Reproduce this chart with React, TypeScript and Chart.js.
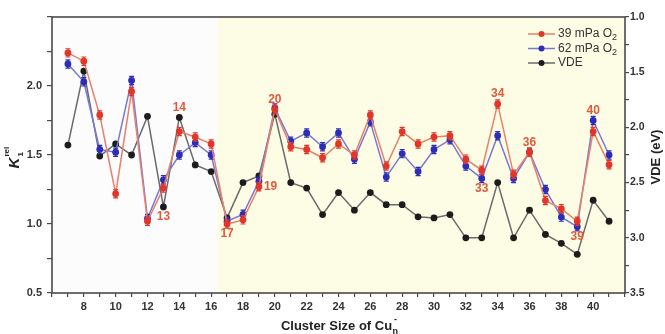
import React, { useEffect, useRef } from 'react';
import { Chart, registerables } from 'chart.js';

Chart.register(...registerables);

// ---------- data ----------
const clusterSizes = [7, 8, 9, 10, 11, 12, 13, 14, 15, 16, 17, 18, 19, 20, 21, 22, 23, 24, 25, 26, 27, 28, 29, 30, 31, 32, 33, 34, 35, 36, 37, 38, 39, 40, 41];
const k39 = [2.24, 2.18, 1.79, 1.22, 1.96, 1.02, 1.26, 1.67, 1.63, 1.58, 1.0, 1.03, 1.27, 1.83, 1.56, 1.54, 1.48, 1.58, 1.5, 1.79, 1.42, 1.67, 1.58, 1.63, 1.64, 1.47, 1.39, 1.87, 1.36, 1.52, 1.17, 1.11, 1.02, 1.67, 1.43];
const k62 = [2.16, 2.03, 1.54, 1.52, 2.04, 1.04, 1.32, 1.5, 1.59, 1.5, 1.02, 1.07, 1.31, 1.84, 1.6, 1.66, 1.56, 1.66, 1.47, 1.74, 1.34, 1.51, 1.38, 1.54, 1.61, 1.42, 1.33, 1.64, 1.33, 1.52, 1.25, 1.05, 0.98, 1.75, 1.5];
const vde = [2.16, 1.49, 2.26, 2.15, 2.25, 1.9, 2.72, 1.91, 2.34, 2.4, 2.82, 2.5, 2.44, 1.88, 2.5, 2.55, 2.79, 2.59, 2.75, 2.59, 2.7, 2.7, 2.81, 2.82, 2.79, 3.0, 3.0, 2.5, 3.0, 2.75, 2.97, 3.05, 3.15, 2.66, 2.85];
const kErr = 0.03;

const seriesLabels = ['39 mPa O', '62 mPa O', 'VDE'];
const seriesSubs = ['2', '2', ''];

const xTickLabels = [8, 10, 12, 14, 16, 18, 20, 22, 24, 26, 28, 30, 32, 34, 36, 38, 40];
const leftTickLabels = [0.5, 1.0, 1.5, 2.0];
const rightTickLabels = [1.0, 1.5, 2.0, 2.5, 3.0, 3.5];
const highlightFrom = 16.4;

const annoSizes = [13, 14, 17, 19, 20, 33, 34, 36, 39, 40];
const annoAnchor = [2, 2, 0, 0, 0, 1, 0, 0, 1, 1];
const annoPlace = ['below', 'above', 'below', 'right', 'above', 'below', 'above', 'above', 'below', 'above'];

// ---------- styles ----------
const FONT = '"Liberation Sans", Arial, Helvetica, sans-serif';
const pointColors = ['#e2362a', '#2d2db8', '#1c1c1c'];
const lineColors = ['#e8806a', '#7a78d6', '#6a6a6a'];
const AXIS = '#4a4a4a';
const TXT = '#333333';
const ANNO = '#e05a3c';

const App: React.FC = () => {
  const ref = useRef<HTMLCanvasElement | null>(null);

  useEffect(() => {
    document.body.style.margin = '0';
    const canvas = ref.current;
    if (!canvas) return;

    const mk = (arr: number[]) => clusterSizes.map((n, i) => ({ x: n, y: arr[i] }));

    const bgPlugin = {
      id: 'bg',
      beforeDraw(chart: any) {
        const { ctx, chartArea: a, scales } = chart;
        ctx.save();
        ctx.fillStyle = '#ffffff';
        ctx.fillRect(0, 0, chart.width, chart.height);
        ctx.fillStyle = '#fcfcfc';
        ctx.fillRect(a.left, a.top, a.right - a.left, a.bottom - a.top);
        const xs = scales.x.getPixelForValue(highlightFrom);
        ctx.fillStyle = '#fdfce4';
        ctx.fillRect(xs, a.top, a.right - xs, a.bottom - a.top);
        ctx.restore();
      },
    };

    const errPlugin = {
      id: 'err',
      afterDatasetDraw(chart: any, args: any) {
        const i = args.index;
        if (i > 1) return;
        const { ctx, scales } = chart;
        const arr = i === 0 ? k39 : k62;
        ctx.save();
        ctx.strokeStyle = pointColors[i];
        ctx.lineWidth = 1.2;
        clusterSizes.forEach((n, j) => {
          const x = scales.x.getPixelForValue(n);
          const y1 = scales.y.getPixelForValue(arr[j] + kErr);
          const y2 = scales.y.getPixelForValue(arr[j] - kErr);
          ctx.beginPath();
          ctx.moveTo(x, y1); ctx.lineTo(x, y2);
          ctx.moveTo(x - 2.5, y1); ctx.lineTo(x + 2.5, y1);
          ctx.moveTo(x - 2.5, y2); ctx.lineTo(x + 2.5, y2);
          ctx.stroke();
        });
        ctx.restore();
      },
    };

    const decoPlugin = {
      id: 'deco',
      afterDraw(chart: any) {
        const { ctx, chartArea: a, scales } = chart;
        ctx.save();
        // frame
        ctx.strokeStyle = AXIS;
        ctx.lineWidth = 1.6;
        ctx.strokeRect(a.left, a.top, a.right - a.left, a.bottom - a.top);

        // annotations
        ctx.fillStyle = ANNO;
        ctx.font = `bold 12px ${FONT}`;
        const all = [k39, k62, vde];
        annoSizes.forEach((n, k) => {
          const j = clusterSizes.indexOf(n);
          const s = annoAnchor[k];
          const x = scales.x.getPixelForValue(n);
          const y = (s === 2 ? scales.y1 : scales.y).getPixelForValue(all[s][j]);
          const p = annoPlace[k];
          if (p === 'above') {
            ctx.textAlign = 'center'; ctx.textBaseline = 'bottom';
            ctx.fillText(String(n), x, y - 4);
          } else if (p === 'below') {
            ctx.textAlign = 'center'; ctx.textBaseline = 'top';
            ctx.fillText(String(n), x, y + 4);
          } else {
            ctx.textAlign = 'left'; ctx.textBaseline = 'middle';
            ctx.fillText(String(n), x + 5, y);
          }
        });

        // legend
        const lx = a.right - 97;
        const ly = a.top + 17;
        seriesLabels.forEach((lab, i) => {
          const y = ly + i * 14.5;
          ctx.strokeStyle = lineColors[i];
          ctx.lineWidth = 1.5;
          ctx.beginPath(); ctx.moveTo(lx, y); ctx.lineTo(lx + 27, y); ctx.stroke();
          ctx.fillStyle = pointColors[i];
          ctx.beginPath(); ctx.arc(lx + 13.5, y, 3, 0, Math.PI * 2); ctx.fill();
          ctx.fillStyle = TXT;
          ctx.font = `12px ${FONT}`;
          ctx.textAlign = 'left'; ctx.textBaseline = 'middle';
          ctx.fillText(lab, lx + 30, y);
          if (seriesSubs[i]) {
            const w = ctx.measureText(lab).width;
            ctx.font = `9px ${FONT}`;
            ctx.fillText(seriesSubs[i], lx + 30 + w, y + 4);
          }
        });

        // x title
        ctx.fillStyle = '#222';
        ctx.font = `bold 13px ${FONT}`;
        const main = 'Cluster Size of Cu';
        const wMain = ctx.measureText(main).width;
        const cx = (a.left + a.right) / 2 + 2;
        const bx = cx - (wMain + 8) / 2;
        ctx.textAlign = 'left'; ctx.textBaseline = 'alphabetic';
        ctx.fillText(main, bx, 330);
        ctx.font = `bold 9px ${FONT}`;
        ctx.fillText('n', bx + wMain + 0.5, 334);
        ctx.fillText('-', bx + wMain + 2, 322);

        // right title
        ctx.save();
        ctx.translate(660, (a.top + a.bottom) / 2 + 2);
        ctx.rotate(-Math.PI / 2);
        ctx.font = `bold 13px ${FONT}`;
        ctx.textAlign = 'center'; ctx.textBaseline = 'alphabetic';
        ctx.fillText('VDE (eV)', 0, 0);
        ctx.restore();

        // left title K_1^rel
        ctx.save();
        ctx.translate(19, (a.top + a.bottom) / 2 + 4);
        ctx.rotate(-Math.PI / 2);
        ctx.font = `bold italic 15px ${FONT}`;
        ctx.textAlign = 'left'; ctx.textBaseline = 'alphabetic';
        const wk = ctx.measureText('K').width;
        ctx.fillText('K', -wk / 2 - 4, 0);
        ctx.font = `bold 8px ${FONT}`;
        ctx.fillText('1', wk / 2 - 3, 4);
        ctx.fillText('rel', wk / 2 - 3, -10);
        ctx.restore();

        ctx.restore();
      },
    };

    const tickFont = { family: FONT, size: 11, weight: 'bold' as const };

    const chart = new Chart(canvas, {
      type: 'line',
      data: {
        datasets: [0, 1, 2].map((i) => ({
          label: seriesLabels[i],
          data: mk([k39, k62, vde][i]),
          yAxisID: i === 2 ? 'y1' : 'y',
          borderColor: lineColors[i],
          backgroundColor: pointColors[i],
          pointBackgroundColor: pointColors[i],
          pointBorderColor: pointColors[i],
          pointBorderWidth: 0,
          pointRadius: 3.4,
          borderWidth: 1.5,
          tension: 0,
          fill: false,
        })),
      },
      options: {
        animation: false,
        responsive: false,
        maintainAspectRatio: false,
        layout: { padding: { top: 17, left: 0, right: 0, bottom: 0 } },
        plugins: { legend: { display: false }, tooltip: { enabled: false } },
        scales: {
          x: {
            type: 'linear',
            min: 6,
            max: 42,
            afterFit: (s: any) => { s.height = 41; },
            border: { display: false },
            grid: { drawOnChartArea: false, drawTicks: true, tickLength: 4, color: AXIS, lineWidth: 1.2 },
            ticks: {
              stepSize: 1,
              autoSkip: false,
              maxRotation: 0,
              padding: 3,
              color: TXT,
              font: tickFont,
              callback: (v: any) => (xTickLabels.includes(Number(v)) ? String(v) : ''),
            },
          },
          y: {
            type: 'linear',
            position: 'left',
            min: 0.5,
            max: 2.5,
            afterFit: (s: any) => { s.width = 52; },
            border: { display: false },
            grid: { drawOnChartArea: false, drawTicks: true, tickLength: 5, color: AXIS, lineWidth: 1.2 },
            ticks: {
              stepSize: 0.25,
              autoSkip: false,
              padding: 5,
              color: TXT,
              font: tickFont,
              callback: (v: any) => (leftTickLabels.includes(Number(v)) ? Number(v).toFixed(1) : ''),
            },
          },
          y1: {
            type: 'linear',
            position: 'right',
            reverse: true,
            min: 1,
            max: 3.5,
            afterFit: (s: any) => { s.width = 40; },
            border: { display: false },
            grid: { drawOnChartArea: false, drawTicks: true, tickLength: 4, color: AXIS, lineWidth: 1.2 },
            ticks: {
              stepSize: 0.25,
              autoSkip: false,
              padding: 1,
              color: TXT,
              font: { family: FONT, size: 10.5, weight: 'bold' as const },
              callback: (v: any) => (rightTickLabels.includes(Number(v)) ? Number(v).toFixed(1) : ''),
            },
          },
        },
      },
      plugins: [bgPlugin, errPlugin, decoPlugin],
    });

    return () => chart.destroy();
  }, []);

  return <canvas ref={ref} width={665} height={334} style={{ display: 'block' }} />;
};

export default App;
